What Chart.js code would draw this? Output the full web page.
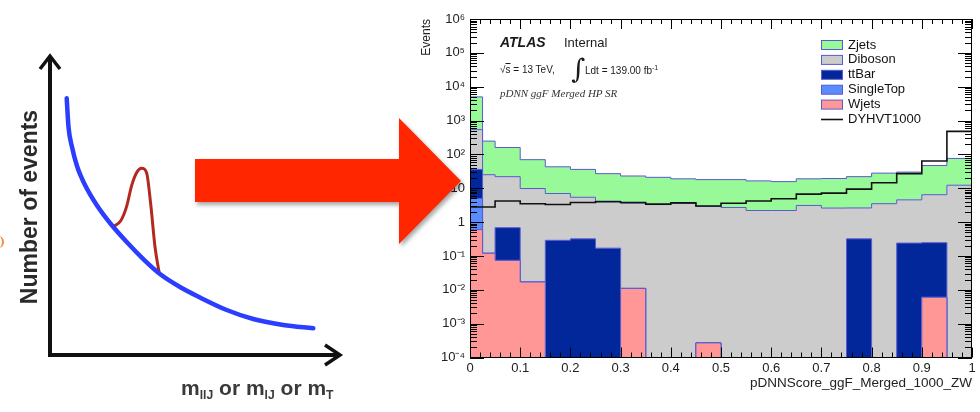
<!DOCTYPE html>
<html>
<head>
<meta charset="utf-8">
<title>pDNN score</title>
<script src="https://cdn.jsdelivr.net/npm/chart.js@4.4.1/dist/chart.umd.min.js"></script>
<style>
  html, body { margin: 0; padding: 0; background: #fff; }
  body { position: relative; width: 980px; height: 412px; overflow: hidden;
         font-family: "Liberation Sans", Arial, sans-serif; }
  canvas { position: absolute; top: 0; }
  #sketch { left: 0; }
  #hist { left: 410px; }
  .txt { position: absolute; white-space: nowrap; line-height: 1; transform: translateY(-50%); color: #1a1a1a; }
  #ylab { position: absolute; left: 29px; top: 207px; white-space: nowrap; line-height: 1;
          transform: translate(-50%, -50%) rotate(-90deg);
          font: bold 23px "Liberation Sans", Arial, sans-serif; color: #2a2a2a; }
  #xlab { position: absolute; left: 181px; top: 376px; white-space: nowrap; line-height: 1;
          font: bold 21px "Liberation Sans", Arial, sans-serif; color: #3a3a3a; }
  #xlab sub { font-size: 58%; vertical-align: -0.3em; }
  #orange { position: absolute; left: -7px; top: 236px; width: 9px; height: 12px;
            border-right: 2px solid #f08a3c; border-radius: 50%; }
  .arrow-wrap { position: absolute; left: 195px; top: 118px; width: 266px; height: 126px; z-index: 5;
                filter: drop-shadow(2px 3px 2px rgba(0,0,0,0.35)); }
  .arrow { width: 100%; height: 100%; background: #ff2600;
           clip-path: polygon(0 41px, 204px 41px, 204px 0, 266px 63px, 204px 126px, 204px 84px, 0 84px); }
</style>
</head>
<body>
<canvas id="sketch" width="380" height="412"></canvas>
<canvas id="hist" width="570" height="412"></canvas>

<div id="ylab">Number of events</div>
<div id="xlab">m<sub>llJ</sub> or m<sub>lJ</sub> or m<sub>T</sub></div>
<div id="orange"></div>

<div class="txt" style="left:500px; top:42px; font: italic bold 14px 'Liberation Sans', Arial, sans-serif;">ATLAS</div>
<div class="txt" style="left:564px; top:42px; font-size:13px;">Internal</div>
<div class="txt" style="left:500px; top:70px; font-size:10px;">√<span style="text-decoration: overline;">s</span> = 13 TeV,</div>
<div class="txt" style="left:571px; top:68px; font: 27px 'DejaVu Serif', serif;">∫</div>
<div class="txt" style="left:585px; top:70px; font-size:10px;">Ldt = 139.00 fb<sup style="font-size:7px;">-1</sup></div>
<div class="txt" style="left:500px; top:93px; font: italic 11px 'Liberation Serif', serif; color:#333;">pDNN ggF Merged HP SR</div>

<div class="arrow-wrap"><div class="arrow"></div></div>

<script>
// ---- schematic (left) : curve points, axes 0..100
const bgX  = [5.76, 6.38, 7.59, 9.31, 12.07, 16.10, 20.69, 26.45, 32.17, 37.93, 44.83, 51.72, 60.93, 70.10, 80.45, 90.79];
const bgY  = [87.02, 77.29, 70.51, 64.07, 57.63, 50.85, 44.75, 38.31, 32.54, 27.46, 23.05, 19.49, 15.25, 12.20, 10.17, 9.05];
const sigX = [21.83, 24.4, 26.4, 28.2, 29.9, 31.6, 33.3, 34.7, 36.2, 37.69];
const sigY = [43.56, 45.5, 50.3, 57.6, 61.9, 63.3, 61.8, 51.4, 36.7, 27.63];

// ---- histogram (right)
const binEdges = [0, 0.025, 0.05, 0.10, 0.15, 0.20, 0.25, 0.30, 0.35, 0.40, 0.45,
                  0.50, 0.55, 0.60, 0.65, 0.70, 0.75, 0.80, 0.85, 0.90, 0.95, 1.00];
const wjets     = [0.6, 0.12, 0.074, 0.017, 0, 0, 0, 0.011, 0, 0, 0.00027, 0, 0, 0, 0, 0, 0, 0, 0, 0.006, 0];
const singleTop = [4.4, 0, 0, 0, 0, 0, 0, 0, 0, 0, 0, 0, 0, 0, 0, 0, 0, 0, 0, 0, 0];
const ttbar     = [31, 0, 0.61, 0, 0.29, 0.32, 0.17, 0, 0, 0, 0, 0, 0, 0, 0, 0, 0.32, 0, 0.24, 0.24, 0];
const diboson   = [504, 25, 21.3, 9.8, 6.7, 5.1, 4.0, 3.6, 3.3, 3.6, 2.9, 2.7, 2.2, 2.2, 3.1, 2.6, 2.3, 3.5, 4.3, 6.2, 12.3];
const zjets     = [4460, 222, 138, 60, 36, 30.6, 22.8, 19.4, 17.7, 15.4, 15.1, 15.3, 14.3, 13.5, 15.9, 16.8, 19.4, 24.5, 25.5, 40.5, 63.7];
const dyhvt1000 = [2.8, 2.8, 4.2, 3.5, 3.3, 3.8, 4.0, 3.8, 3.4, 3.7, 3.0, 3.6, 4.2, 4.9, 6.7, 7.2, 9.4, 14.5, 27, 64, 480];
const yTickValues = [1e-4, 1e-3, 1e-2, 1e-1, 1, 10, 1e2, 1e3, 1e4, 1e5, 1e6];
const legendOrder = ['Zjets', 'Diboson', 'ttBar', 'SingleTop', 'Wjets', 'DYHVT1000'];

const Y_MIN = 1e-4, Y_MAX = 1e6;
const OUTLINE = '#5a5ad2';
Chart.defaults.font.family = "'Liberation Sans', Arial, sans-serif";
Chart.defaults.color = '#222';

// ---------- schematic ----------
const sketchAxes = {
  id: 'sketchAxes',
  afterDraw(chart) {
    const {ctx, chartArea: a} = chart;
    ctx.save();
    ctx.strokeStyle = '#111';
    ctx.lineWidth = 4;
    ctx.lineJoin = 'miter';
    ctx.beginPath();
    ctx.moveTo(a.left, a.top - 4); ctx.lineTo(a.left, a.bottom); ctx.lineTo(a.right, a.bottom);
    ctx.stroke();
    ctx.lineWidth = 3.5;
    ctx.beginPath();
    ctx.moveTo(a.left - 10, a.top + 9); ctx.lineTo(a.left, a.top - 4); ctx.lineTo(a.left + 10, a.top + 9);
    ctx.moveTo(a.right - 15, a.bottom - 10); ctx.lineTo(a.right, a.bottom); ctx.lineTo(a.right - 15, a.bottom + 10);
    ctx.stroke();
    ctx.restore();
  }
};

const xy = (xs, ys) => xs.map((x, i) => ({x, y: ys[i]}));

new Chart(document.getElementById('sketch'), {
  type: 'line',
  data: {
    datasets: [
      { data: xy(bgX, bgY), borderColor: '#2b3dff', borderWidth: 4.5, borderCapStyle: 'round',
        cubicInterpolationMode: 'monotone', pointRadius: 0, fill: false },
      { data: xy(sigX, sigY), borderColor: '#b3291f', borderWidth: 3, borderCapStyle: 'round',
        cubicInterpolationMode: 'monotone', pointRadius: 0, fill: false }
    ]
  },
  options: {
    responsive: false,
    animation: false,
    layout: { padding: { left: 50, top: 60, right: 40, bottom: 57 } },
    scales: {
      x: { type: 'linear', min: 0, max: 100, display: false },
      y: { type: 'linear', min: 0, max: 100, display: false }
    },
    plugins: { legend: { display: false }, tooltip: { enabled: false } }
  },
  plugins: [sketchAxes]
});

// ---------- histogram ----------
function toSteps(vals) {
  const pts = vals.map((v, i) => ({x: binEdges[i], y: Math.max(v, Y_MIN)}));
  pts.push({x: binEdges[vals.length], y: Math.max(vals[vals.length - 1], Y_MIN)});
  return pts;
}

const stack = [
  {label: 'Wjets',     values: wjets,     color: '#ff9797'},
  {label: 'SingleTop', values: singleTop, color: '#5b8cff'},
  {label: 'ttBar',     values: ttbar,     color: '#01279a'},
  {label: 'Diboson',   values: diboson,   color: '#cccccc'},
  {label: 'Zjets',     values: zjets,     color: '#98f998'}
];

let running = binEdges.slice(1).map(() => 0);
const datasets = stack.map((s, k) => {
  running = running.map((r, i) => r + s.values[i]);
  return {
    label: s.label, data: toSteps(running), stepped: true,
    fill: k === 0 ? 'start' : '-1',
    backgroundColor: s.color, borderColor: OUTLINE, borderWidth: 1,
    pointRadius: 0, order: 1
  };
});
datasets.push({
  label: 'DYHVT1000', data: toSteps(dyhvt1000), stepped: true, fill: false,
  borderColor: '#111', borderWidth: 1.6, pointRadius: 0, order: 0
});

const frameTicks = {
  id: 'frameTicks',
  afterDatasetsDraw(chart) {
    const {ctx, chartArea: a, scales: {x, y}} = chart;
    ctx.save();
    ctx.strokeStyle = '#000';
    ctx.lineWidth = 1;
    ctx.beginPath();
    for (let i = 0; i <= 50; i++) {
      const px = Math.round(x.getPixelForValue(i * 0.02)) + 0.5;
      const len = i % 5 === 0 ? 10 : 5;
      ctx.moveTo(px, a.bottom); ctx.lineTo(px, a.bottom - len);
      ctx.moveTo(px, a.top); ctx.lineTo(px, a.top + len);
    }
    yTickValues.forEach((dec, k) => {
      for (let m = 1; m <= 9; m++) {
        if (k === yTickValues.length - 1 && m > 1) break;
        const py = Math.round(y.getPixelForValue(dec * m)) + 0.5;
        const len = m === 1 ? 14 : 7;
        ctx.moveTo(a.left, py); ctx.lineTo(a.left + len, py);
        ctx.moveTo(a.right, py); ctx.lineTo(a.right - len, py);
      }
    });
    ctx.stroke();
    ctx.strokeRect(Math.round(a.left) + 0.5, Math.round(a.top) + 0.5,
                   Math.round(a.width) - 1, Math.round(a.height) - 1);
    ctx.restore();
  }
};

const legendBox = {
  id: 'legendBox',
  afterDraw(chart) {
    const {ctx, chartArea: a} = chart;
    ctx.save();
    ctx.font = "13px 'Liberation Sans', Arial, sans-serif";
    ctx.textBaseline = 'middle';
    legendOrder.forEach((name, i) => {
      const ds = chart.data.datasets.find(d => d.label === name);
      const cy = a.top + 26 + i * 14.9;
      const bx = a.right - 151;
      if (ds.fill) {
        ctx.fillStyle = ds.backgroundColor;
        ctx.fillRect(bx, cy - 4.5, 22, 9);
        ctx.strokeStyle = ds.borderColor;
        ctx.lineWidth = 1;
        ctx.strokeRect(bx + 0.5, cy - 4.5, 21, 9);
      } else {
        ctx.strokeStyle = ds.borderColor;
        ctx.lineWidth = 1.6;
        ctx.beginPath(); ctx.moveTo(bx, cy); ctx.lineTo(bx + 22, cy); ctx.stroke();
      }
      ctx.fillStyle = '#111';
      ctx.fillText(name, a.right - 124, cy);
    });
    ctx.restore();
  }
};

const SUP = {'-': '⁻', '0': '⁰', '1': '¹', '2': '²', '3': '³', '4': '⁴', '5': '⁵', '6': '⁶', '7': '⁷', '8': '⁸', '9': '⁹'};

new Chart(document.getElementById('hist'), {
  type: 'line',
  data: { datasets },
  options: {
    responsive: false,
    animation: false,
    layout: { padding: { left: 0, top: 19, right: 8, bottom: 20 } },
    scales: {
      x: {
        type: 'linear', min: 0, max: 1,
        grid: { display: false, drawTicks: false }, border: { display: false },
        ticks: { stepSize: 0.1, autoSkip: false, maxRotation: 0, padding: 3,
                 font: { size: 13 }, color: '#222',
                 callback: v => String(+v.toFixed(2)) },
        title: { display: true, text: 'pDNNScore_ggF_Merged_1000_ZW', align: 'end',
                 font: { size: 13.5 }, color: '#222', padding: { top: 0, bottom: 1 } },
        afterFit: s => { s.height = 34.5; }
      },
      y: {
        type: 'logarithmic', min: Y_MIN, max: Y_MAX,
        grid: { display: false, drawTicks: false }, border: { display: false },
        afterBuildTicks: s => { s.ticks = yTickValues.map(v => ({value: v})); },
        ticks: { autoSkip: false, padding: 5, font: { size: 13 }, color: '#222',
                 callback: v => {
                   const e = Math.round(Math.log10(v));
                   if (e === 0) return '1';
                   if (e === 1) return '10';
                   return '10' + String(e).split('').map(c => SUP[c]).join('');
                 } },
        title: { display: true, text: 'Events', align: 'end', font: { size: 12 },
                 color: '#222', padding: { top: 9, bottom: 0 } },
        afterFit: s => { s.width = 60; }
      }
    },
    plugins: { legend: { display: false }, tooltip: { enabled: false } }
  },
  plugins: [frameTicks, legendBox]
});
</script>
</body>
</html>
